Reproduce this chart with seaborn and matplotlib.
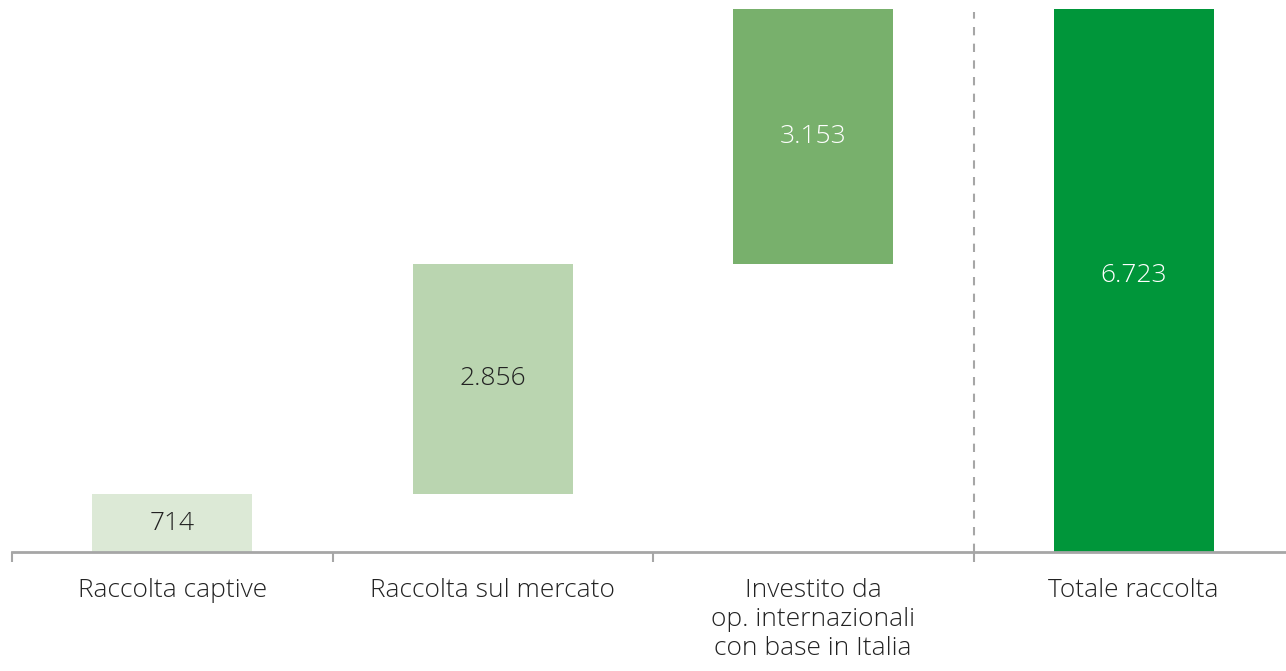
import matplotlib.pyplot as plt
import numpy as np
import pandas as pd
import seaborn as sns

# Data
categories = [
    "Raccolta captive",
    "Raccolta sul mercato",
    "Investito da\nop. internazionali\ncon base in Italia",
    "Totale raccolta",
]
values = [714, 2856, 3153, 6723]
is_total = [False, False, False, True]
colors = ["#dce9d6", "#bad5b0", "#78b06c", "#00963a"]
text_colors = ["#222222", "#222222", "white", "white"]

# Waterfall bottoms
bottoms = []
running = 0
for v, tot in zip(values, is_total):
    if tot:
        bottoms.append(0)
    else:
        bottoms.append(running)
        running += v

df = pd.DataFrame({"category": categories, "value": values, "bottom": bottoms})

sns.set_style("white")
plt.rcParams["font.family"] = ["Open Sans", "DejaVu Sans"]

fig = plt.figure(figsize=(12.86, 6.71), dpi=100)
ax = fig.add_axes([12 / 1286, (671 - 552) / 671, 1282 / 1286, (552 - 9) / 671])

sns.barplot(
    data=df,
    x="category",
    y="value",
    bottom=df["bottom"].to_numpy(),
    color="gray",
    width=0.5,
    saturation=1,
    ax=ax,
)
for patch, c in zip(ax.patches, colors):
    patch.set_facecolor(c)
    patch.set_edgecolor("none")

ax.set_xlim(-0.5, 3.5)
ax.set_ylim(0, values[-1])

# value labels
for i, (v, b) in enumerate(zip(values, bottoms)):
    ax.text(
        i,
        b + v / 2 + (60 if is_total[i] else 0),
        f"{v:,}".replace(",", "."),
        ha="center",
        va="center",
        fontsize=19,
        fontweight="light",
        color=text_colors[i],
    )

# separator before total
ax.axvline(2.5, ymin=0, ymax=0.995, color="#a6a6a6", lw=1.5, ls=(0, (4, 4)))

# axes styling
for s in ["top", "right", "left"]:
    ax.spines[s].set_visible(False)
ax.spines["bottom"].set_color("#a6a6a6")
ax.spines["bottom"].set_linewidth(2)
ax.set_yticks([])
ax.set_xlabel("")
ax.set_ylabel("")
ax.set_xticks(np.arange(-0.5, 3.5, 1), minor=True)
ax.tick_params(axis="x", which="minor", length=7, width=1.5, color="#a6a6a6", bottom=True)
ax.tick_params(axis="x", which="major", length=0, pad=19, labelsize=19, labelcolor="#222222")
for lbl in ax.get_xticklabels():
    lbl.set_va("top")
    lbl.set_linespacing(1.2)
    lbl.set_fontweight("light")

fig.savefig("out.png", dpi=100)
